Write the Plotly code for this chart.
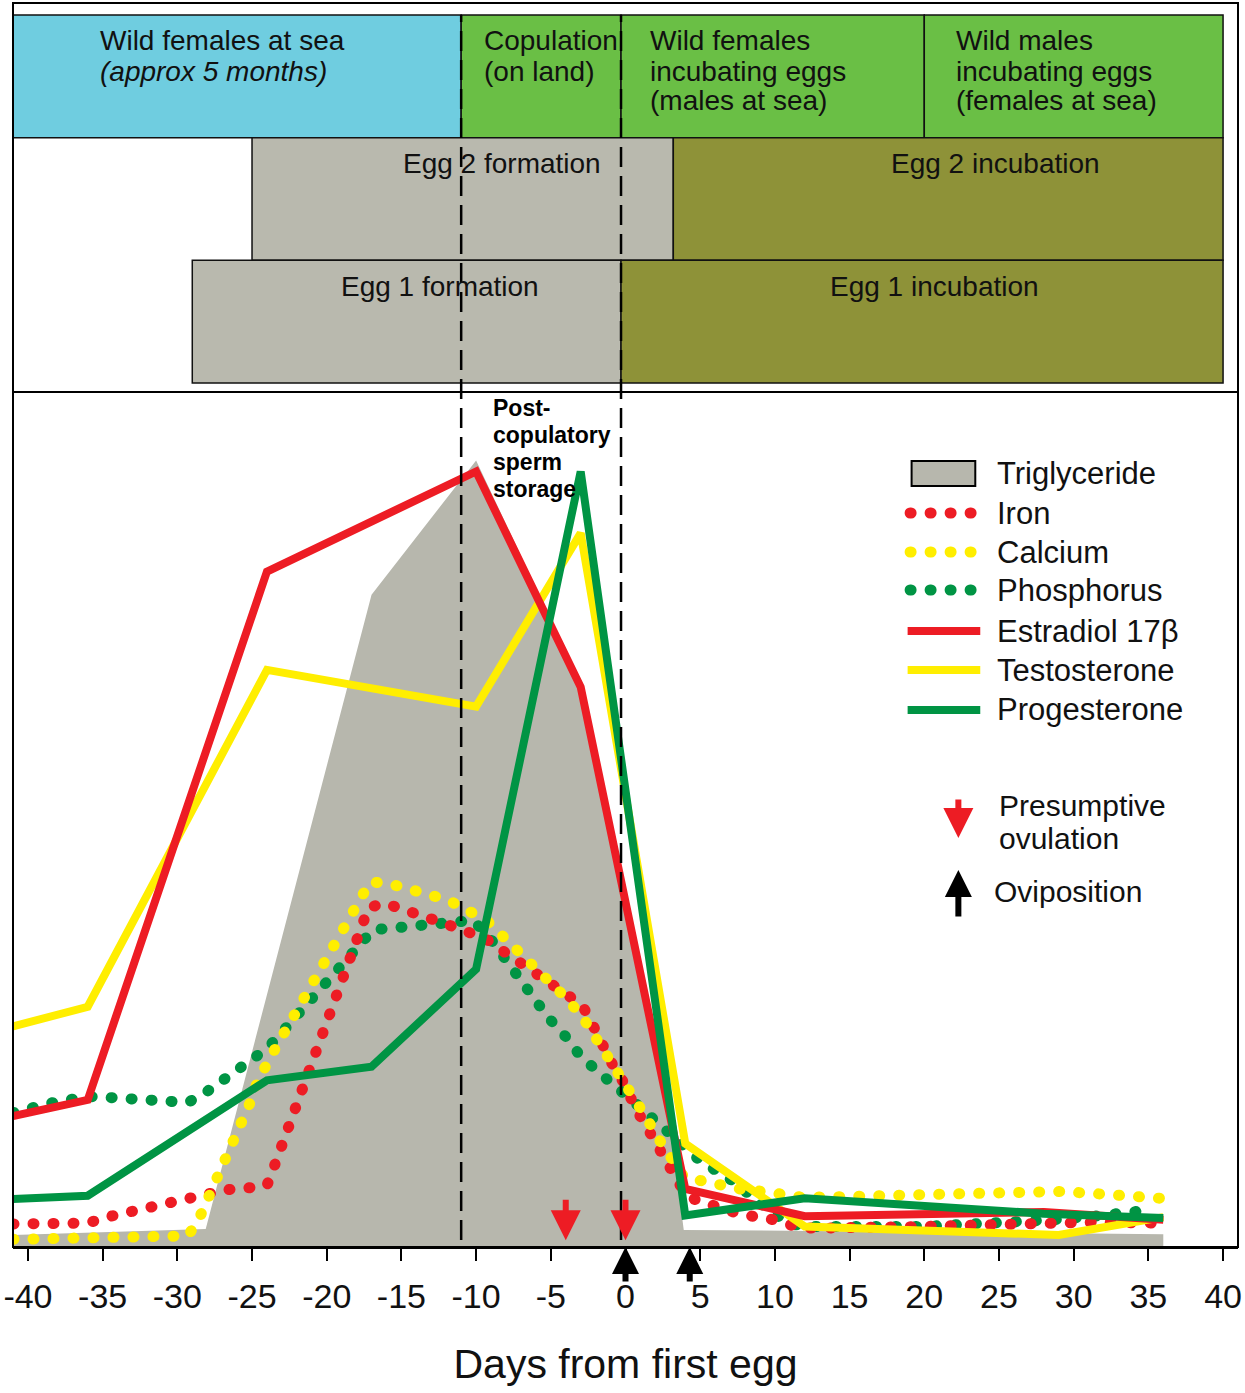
import plotly.graph_objects as go

# ---------------- data ----------------
# timeline segments (top panel); row 2 = top, 0 = bottom
seg_rows = [2, 2, 2, 2, 1, 1, 0, 0]
seg_start = [-41, -11, -0.3, 20, -25, 3.2, -29, -0.3]
seg_end = [-11, -0.3, 20, 40, 3.2, 40, -0.3, 40]
seg_kind = ["sea", "land", "land", "land", "form", "incub", "form", "incub"]

# labels of the timeline (one entry per text line)
lab_text = ["Wild females at sea", "<i>(approx 5 months)</i>",
            "Copulation", "(on land)",
            "Wild females", "incubating eggs", "(males at sea)",
            "Wild males", "incubating eggs", "(females at sea)",
            "Egg 2 formation", "Egg 2 incubation",
            "Egg 1 formation", "Egg 1 incubation"]
lab_x = [-35.3, -35.3, -9.6, -9.6, 1.5, 1.5, 1.5, 22.0, 22.0, 22.0,
         -8.3, 24.8, -12.4, 20.7]
lab_y = [2.29, 2.04, 2.29, 2.04, 2.29, 2.04, 1.80, 2.29, 2.04, 1.80,
         1.29, 1.29, 0.29, 0.29]
lab_anchor = ["left"] * 10 + ["center"] * 4

# x ticks
tick_vals = list(range(-40, 41, 5))
tick_text = [str(v) for v in tick_vals]

# lower panel series (relative level, 0-100)
trig_x = [-41, -28.1, -17, -10, -3, 2.8, 3.9, 36]
trig_y = [1.4, 2.1, 76.3, 92.0, 66.0, 17.0, 2.0, 1.5]

iron_x = [-41, -36, -34.7, -33.3, -32, -30.7, -29.3, -28, -26.7, -25.3, -24,
          -23.5, -23, -22.1, -21, -20.1, -19.1, -18.1, -17.2, -16.1, -14.8,
          -13.4, -12.2, -10.8, -9.4, -8.1, -6.8, -5.6, -4.3, -2.9, -2.2, -1.5,
          -0.8, 0, 0.6, 1.4, 2.1, 2.9, 3.7, 4.6, 5.9, 7.2, 8.5, 9.9, 11.2,
          12.5, 20, 25.9, 28.5, 31.2, 35.5]
iron_y = [2.7, 2.8, 3.5, 4.1, 4.6, 5.3, 5.9, 6.4, 6.7, 6.9, 7.2,
          9.5, 11.9, 16.4, 21.1, 25.8, 30.5, 35.1, 39.7, 40.2, 39.3,
          38.6, 37.9, 37.1, 36.1, 34.5, 33.0, 31.4, 29.9, 28.3, 26.0, 23.4,
          21.1, 18.9, 16.4, 14.1, 11.8, 9.4, 7.1, 5.6, 4.8, 4.1, 3.6, 3.2, 2.5,
          2.2, 2.4, 2.8, 3.0, 2.9, 2.8]

calc_x = [-41, -36, -29.3, -28.6, -28, -27.4, -26.8, -26.3, -25.7, -25.1,
          -24.6, -24, -23.2, -22.4, -20.9, -19.4, -17.9, -17.1, -15.8, -14.6,
          -11.9, -9.3, -6.6, -5.3, -3.9, -2.8, -1.9, -1.0, -0.3, 0.6, 1.4,
          2.2, 3.0, 3.9, 5.2, 6.6, 7.9, 9.2, 10.6, 11.9, 14.6, 18.4, 22.4,
          26.4, 29.1, 31.8, 34.4, 35.8]
calc_y = [0.9, 1.1, 1.3, 3.1, 5.4, 7.8, 10.1, 12.4, 14.7, 17.0,
          19.5, 21.7, 24.0, 26.4, 31.1, 35.7, 40.3, 42.7, 42.5, 42.0,
          40.6, 38.2, 33.7, 31.3, 29.0, 26.7, 24.3, 22.0, 19.6, 17.4, 15.1,
          12.7, 10.4, 8.2, 7.7, 7.1, 6.7, 6.5, 6.1, 5.8, 5.9, 6.0, 6.2,
          6.4, 6.5, 6.2, 5.8, 5.7]

phos_x = [-41, -39.7, -38.3, -37, -36, -34.7, -33.3, -32, -30.7, -29.3, -28,
          -26.7, -25.3, -24, -22.8, -21.6, -20.4, -19.3, -18.1, -16.9, -15.6,
          -14.2, -12.9, -11.6, -10.2, -9.1, -8.2, -7.1, -6.1, -5.2, -4.0,
          -3.0, -1.7, -0.4, 1.0, 2.3, 3.6, 4.8, 6.0, 7.3, 8.7, 10.1, 11.4,
          12.8, 20, 26.1, 28.8, 31.4, 34.1, 35.4]
phos_y = [15.7, 16.4, 16.9, 17.3, 17.6, 17.5, 17.3, 17.1, 17.0, 16.9, 18.2,
          19.9, 21.7, 23.2, 25.5, 27.8, 30.2, 32.5, 34.9, 37.1, 37.3,
          37.5, 37.7, 37.9, 38.2, 36.2, 34.0, 31.6, 29.4, 26.9, 24.6,
          22.3, 20.3, 18.2, 16.3, 14.3, 12.3, 10.4, 9.0, 7.6, 5.5, 3.7, 2.6,
          2.4, 2.4, 2.8, 3.2, 3.6, 4.1, 4.4]

estr_x = [-41, -36, -24, -10, -3, 4, 12, 28, 36]
estr_y = [15.3, 17.2, 79.0, 90.7, 65.5, 6.8, 3.6, 4.1, 3.2]

test_x = [-41, -36, -24, -10, -3, 4, 12, 29, 36]
test_y = [25.8, 28.1, 67.5, 63.2, 83.5, 12.1, 2.4, 1.4, 3.5]

prog_x = [-41, -36, -24, -17, -10, -3, 4, 12, 28, 36]
prog_y = [5.6, 6.0, 19.5, 21.1, 32.5, 90.7, 3.7, 5.7, 3.9, 3.4]

phase_lines = [-11, -0.3]          # copulation start / first egg
ovulation_days = [-4, 0]
oviposition_days = [0, 4.3]

legend_names = ["Triglyceride", "Iron", "Calcium", "Phosphorus",
                "Estradiol 17β", "Testosterone", "Progesterone"]

# ---------------- styling ----------------
RED = "#ED1C24"
YELLOW = "#FFEE00"
GREEN = "#009444"
TRIG = "#B7B7AD"
seg_colors = {"sea": "#6FCDE0", "land": "#6ABF45",
              "form": "#B9B9AE", "incub": "#8E9238"}
FONT = "Liberation Sans, Arial, sans-serif"
INK = "#111111"
DOTS = "1px,19px"

W, H = 1245, 1393
ML, MR, MT, MB = 10, 4, 3, 146
SPLIT = 855 / 1244  # lower panel share of the plot height


def fx(px):
    return (px - ML) / (W - ML - MR)


def fy(py):
    return (H - MB - py) / (H - MT - MB)


fig = go.Figure()

# timeline bars
fig.add_trace(go.Bar(
    orientation="h",
    y=seg_rows,
    x=[e - s for s, e in zip(seg_start, seg_end)],
    base=seg_start,
    width=1,
    marker=dict(color=[seg_colors[k] for k in seg_kind],
                line=dict(color=INK, width=1.5)),
    xaxis="x", yaxis="y2",
    hoverinfo="skip", showlegend=False
))

# triglyceride area
fig.add_trace(go.Scatter(
    x=trig_x, y=trig_y, mode="lines", fill="tozeroy",
    fillcolor=TRIG, line=dict(color=TRIG, width=0),
    name="Triglyceride", showlegend=False
))

# minerals as dotted curves
for xs, ys, col, nm in [(phos_x, phos_y, GREEN, "Phosphorus"),
                        (iron_x, iron_y, RED, "Iron"),
                        (calc_x, calc_y, YELLOW, "Calcium")]:
    fig.add_trace(go.Scatter(
        x=xs, y=ys, mode="lines", name=nm, showlegend=False,
        line=dict(color=col, width=11, dash=DOTS)
    ))

# hormones as solid lines
for xs, ys, col, nm in [(test_x, test_y, YELLOW, "Testosterone"),
                        (estr_x, estr_y, RED, "Estradiol 17β"),
                        (prog_x, prog_y, GREEN, "Progesterone")]:
    fig.add_trace(go.Scatter(
        x=xs, y=ys, mode="lines", name=nm, showlegend=False,
        line=dict(color=col, width=8)
    ))

shapes = []
annotations = []

# phase boundaries (dashed)
for d in phase_lines:
    shapes.append(dict(type="line", xref="x", yref="paper",
                       x0=d, x1=d, y0=fy(1240), y1=fy(15),
                       line=dict(color="black", width=2.5, dash="20px,9px"),
                       layer="above"))

# frame and separator
shapes.append(dict(type="rect", xref="paper", yref="paper", x0=0, x1=1,
                   y0=0, y1=1, line=dict(color="black", width=2)))
shapes.append(dict(type="line", xref="paper", yref="paper", x0=0, x1=1,
                   y0=SPLIT, y1=SPLIT, line=dict(color="black", width=2)))

# timeline labels
for t, x, y, a in zip(lab_text, lab_x, lab_y, lab_anchor):
    annotations.append(dict(text=t, x=x, y=y, xref="x", yref="y2",
                            xanchor=a, yanchor="middle", showarrow=False,
                            font=dict(family=FONT, size=28, color=INK)))

# post-copulatory label
for i, t in enumerate(["Post-", "copulatory", "sperm", "storage"]):
    annotations.append(dict(text="<b>" + t + "</b>", x=-9.0, y=98.1 - 3.15 * i,
                            xref="x", yref="y", xanchor="left",
                            yanchor="middle", showarrow=False,
                            font=dict(family=FONT, size=23, color="black")))

# ovulation (red, pointing down) and oviposition (black, pointing up)
for d in ovulation_days:
    annotations.append(dict(x=d, y=0.8, xref="x", yref="y", ax=0, ay=-42,
                            text="", showarrow=True, arrowhead=2,
                            arrowsize=1.0, arrowwidth=6, arrowcolor=RED))
for d in oviposition_days:
    annotations.append(dict(x=d, y=0, xref="x", yref="y", ax=0, ay=36,
                            text="", showarrow=True, arrowhead=2,
                            arrowsize=0.9, arrowwidth=6, arrowcolor="black"))

# legend (drawn by hand)
leg_rows = [473, 513, 552, 590, 631, 670, 710]
leg_style = [("box", TRIG), ("dot", RED), ("dot", YELLOW), ("dot", GREEN),
             ("line", RED), ("line", YELLOW), ("line", GREEN)]
for name, py, (kind, col) in zip(legend_names, leg_rows, leg_style):
    if kind == "box":
        shapes.append(dict(type="rect", xref="paper", yref="paper",
                           x0=fx(913), x1=fx(977), y0=fy(486), y1=fy(461),
                           fillcolor=col, line=dict(color="black", width=2)))
    elif kind == "dot":
        shapes.append(dict(type="line", xref="paper", yref="paper",
                           x0=fx(911.5), x1=fx(973), y0=fy(py), y1=fy(py),
                           line=dict(color=col, width=11, dash=DOTS)))
    else:
        shapes.append(dict(type="line", xref="paper", yref="paper",
                           x0=fx(909), x1=fx(982), y0=fy(py), y1=fy(py),
                           line=dict(color=col, width=8)))
    annotations.append(dict(text=name, x=fx(997), y=fy(py), xref="paper",
                            yref="paper", xanchor="left", yanchor="middle",
                            showarrow=False,
                            font=dict(family=FONT, size=31, color=INK)))

annotations.append(dict(x=fx(960), y=fy(838), xref="paper", yref="paper",
                        ax=0, ay=-40, text="", showarrow=True, arrowhead=2,
                        arrowsize=1.0, arrowwidth=6, arrowcolor=RED))
annotations.append(dict(x=fx(960), y=fy(870), xref="paper", yref="paper",
                        ax=0, ay=48, text="", showarrow=True, arrowhead=2,
                        arrowsize=0.9, arrowwidth=6, arrowcolor="black"))
for t, px, py in [("Presumptive", 999, 805), ("ovulation", 999, 838),
                  ("Oviposition", 994, 891)]:
    annotations.append(dict(text=t, x=fx(px), y=fy(py), xref="paper",
                            yref="paper", xanchor="left", yanchor="middle",
                            showarrow=False,
                            font=dict(family=FONT, size=30, color=INK)))

fig.update_layout(
    width=W, height=H,
    margin=dict(l=ML, r=MR, t=MT, b=MB),
    paper_bgcolor="white", plot_bgcolor="white",
    showlegend=False, barmode="overlay",
    shapes=shapes, annotations=annotations,
    xaxis=dict(range=[-41, 41], tickmode="array", tickvals=tick_vals,
               ticktext=tick_text, ticks="outside",
               ticklen=12, tickwidth=2, tickcolor="black",
               ticklabelstandoff=6, ticklabeloverflow="allow",
               showline=True, linecolor="black", linewidth=2,
               showgrid=False, zeroline=False, anchor="y",
               tickfont=dict(family=FONT, size=34, color=INK),
               title=dict(text="Days from first egg", standoff=36,
                          font=dict(family=FONT, size=41, color=INK))),
    yaxis=dict(domain=[0, SPLIT], range=[0, 100], visible=False,
               fixedrange=True),
    yaxis2=dict(domain=[SPLIT, 1], range=[-0.573, 2.598], visible=False,
                anchor="x"),
)

POST_JS = (
    "document.body.style.margin='0';"
    "document.querySelectorAll('path').forEach(function(p){"
    "var d=(p.style.strokeDasharray||'').replace(/\\s/g,'');"
    "if(d.indexOf('1px,19px')===0){p.style.strokeLinecap='round';}});"
)

fig.write_html("out.html", post_script=POST_JS,
               config={"displayModeBar": False})
